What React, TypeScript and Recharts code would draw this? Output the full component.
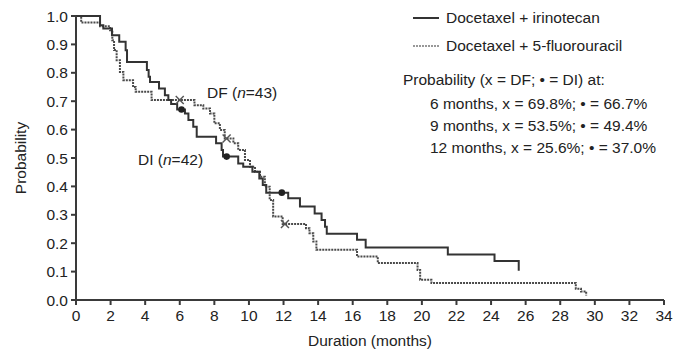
import { ComposedChart, Line, Scatter, XAxis, YAxis } from 'recharts';

// Kaplan-Meier steps: time (months) and probability after each step
const diTime = [0, 1.39, 1.58, 2.08, 2.5, 2.87, 2.95, 4.1, 4.2, 4.28, 4.8, 5.14, 5.34, 5.5, 5.85, 6.3, 6.5, 6.78, 6.98, 8.1, 8.42, 8.5, 9.38, 9.67, 10.2, 10.6, 10.8, 11.0, 12.27, 12.95, 13.8, 14.2, 14.4, 14.5, 16.25, 16.75, 21.5, 24.2, 25.6];
const diProb = [1.0, 0.967, 0.956, 0.932, 0.909, 0.879, 0.838, 0.81, 0.786, 0.768, 0.745, 0.721, 0.704, 0.69, 0.671, 0.657, 0.634, 0.61, 0.575, 0.552, 0.528, 0.505, 0.481, 0.469, 0.452, 0.428, 0.405, 0.378, 0.358, 0.329, 0.305, 0.282, 0.258, 0.233, 0.212, 0.185, 0.16, 0.137, 0.103];

const dfTime = [0, 0.3, 1.39, 1.97, 2.1, 2.2, 2.35, 2.54, 2.74, 3.3, 3.45, 4.37, 6.85, 7.36, 7.75, 8.0, 8.32, 8.6, 9.1, 9.38, 9.77, 10.06, 10.35, 10.64, 10.92, 11.2, 11.4, 11.95, 13.3, 13.5, 13.72, 13.9, 16.25, 17.45, 19.75, 19.9, 20.55, 28.9, 29.2, 29.5];
const dfProb = [1.0, 0.977, 0.964, 0.95, 0.915, 0.88, 0.844, 0.803, 0.774, 0.75, 0.733, 0.704, 0.686, 0.674, 0.657, 0.622, 0.599, 0.569, 0.552, 0.528, 0.493, 0.469, 0.452, 0.434, 0.399, 0.352, 0.294, 0.268, 0.253, 0.235, 0.206, 0.177, 0.153, 0.13, 0.106, 0.071, 0.06, 0.04, 0.03, 0.016];

// 6, 9 and 12 month markers as placed on the curves
const diMarkTime = [6.1, 8.71, 11.9];
const diMarkProb = [0.671, 0.505, 0.378];
const dfMarkTime = [6.0, 8.71, 12.08];
const dfMarkProb = [0.704, 0.569, 0.268];

const xTicks = [0, 2, 4, 6, 8, 10, 12, 14, 16, 18, 20, 22, 24, 26, 28, 30, 32, 34];
const yTicks = [0, 0.1, 0.2, 0.3, 0.4, 0.5, 0.6, 0.7, 0.8, 0.9, 1.0];

const pairs = (t: number[], p: number[]) => t.map((x, i) => ({ t: x, p: p[i] }));
const diData = pairs(diTime, diProb);
const dfData = pairs(dfTime, dfProb);
const diMarks = pairs(diMarkTime, diMarkProb);
const dfMarks = pairs(dfMarkTime, dfMarkProb);

const FONT = '"Liberation Sans", Arial, Helvetica, sans-serif';
const INK = '#222';
const AXIS = '#3a3a3a';

const DotShape = (props: any) => <circle cx={props.cx} cy={props.cy} r={3.3} fill={INK} />;
const CrossShape = (props: any) => {
  const { cx, cy } = props;
  const s = 4;
  return (
    <g stroke="#555" strokeWidth={1.4}>
      <line x1={cx - s} y1={cy - s} x2={cx + s} y2={cy + s} />
      <line x1={cx - s} y1={cy + s} x2={cx + s} y2={cy - s} />
    </g>
  );
};

const txt: React.CSSProperties = {
  position: 'absolute',
  fontFamily: FONT,
  fontSize: 15.5,
  color: INK,
  whiteSpace: 'nowrap',
  lineHeight: '18px',
};

export default function App() {
  return (
    <div style={{ position: 'absolute', left: 0, top: 0, width: 682, height: 349, background: '#fff' }}>
      <ComposedChart width={682} height={349} margin={{ top: 16, right: 18, bottom: 0, left: 0 }}>
        <XAxis
          type="number"
          dataKey="t"
          domain={[0, 34]}
          ticks={xTicks}
          interval={0}
          height={49}
          tickSize={5}
          tickMargin={5}
          stroke={AXIS}
          strokeWidth={2}
          tick={{ fill: INK, fontSize: 15.5, fontFamily: FONT }}
          allowDuplicatedCategory={false}
          label={{ value: 'Duration (months)', position: 'insideBottom', offset: 3, fill: INK, fontSize: 15.5, fontFamily: FONT }}
        />
        <YAxis
          type="number"
          dataKey="p"
          domain={[0, 1]}
          ticks={yTicks}
          interval={0}
          width={76}
          tickSize={5}
          tickMargin={3}
          stroke={AXIS}
          strokeWidth={2}
          tickFormatter={(v: number) => v.toFixed(1)}
          tick={{ fill: INK, fontSize: 15.5, fontFamily: FONT }}
          label={{ value: 'Probability', angle: -90, position: 'insideLeft', offset: 20, fill: INK, fontSize: 15.5, fontFamily: FONT, style: { textAnchor: 'middle' } }}
        />
        <Line data={dfData} dataKey="p" type="stepAfter" stroke="#4a4a4a" strokeWidth={2} strokeDasharray="2 1" dot={false} isAnimationActive={false} />
        <Line data={diData} dataKey="p" type="stepAfter" stroke="#333" strokeWidth={2} dot={false} isAnimationActive={false} />
        <Scatter data={diMarks} dataKey="p" shape={DotShape} isAnimationActive={false} />
        <Scatter data={dfMarks} dataKey="p" shape={CrossShape} isAnimationActive={false} />
      </ComposedChart>

      <svg style={{ position: 'absolute', left: 412, top: 10 }} width={28} height={40}>
        <line x1={1} y1={8} x2={27} y2={8} stroke="#333" strokeWidth={2} />
        <line x1={1} y1={36} x2={27} y2={36} stroke="#777" strokeWidth={1.5} strokeDasharray="2 1" />
      </svg>
      <div style={{ ...txt, left: 446, top: 9 }}>Docetaxel + irinotecan</div>
      <div style={{ ...txt, left: 446, top: 37 }}>Docetaxel + 5-fluorouracil</div>
      <div style={{ ...txt, left: 403, top: 71 }}>Probability (x = DF; • = DI) at:</div>
      <div style={{ ...txt, left: 430, top: 95 }}>6 months, x = 69.8%; • = 66.7%</div>
      <div style={{ ...txt, left: 430, top: 117 }}>9 months, x = 53.5%; • = 49.4%</div>
      <div style={{ ...txt, left: 430, top: 139 }}>12 months, x = 25.6%; • = 37.0%</div>

      <div style={{ ...txt, left: 207, top: 84 }}>DF (<i>n</i>=43)</div>
      <div style={{ ...txt, left: 138, top: 151 }}>DI (<i>n</i>=42)</div>
    </div>
  );
}
